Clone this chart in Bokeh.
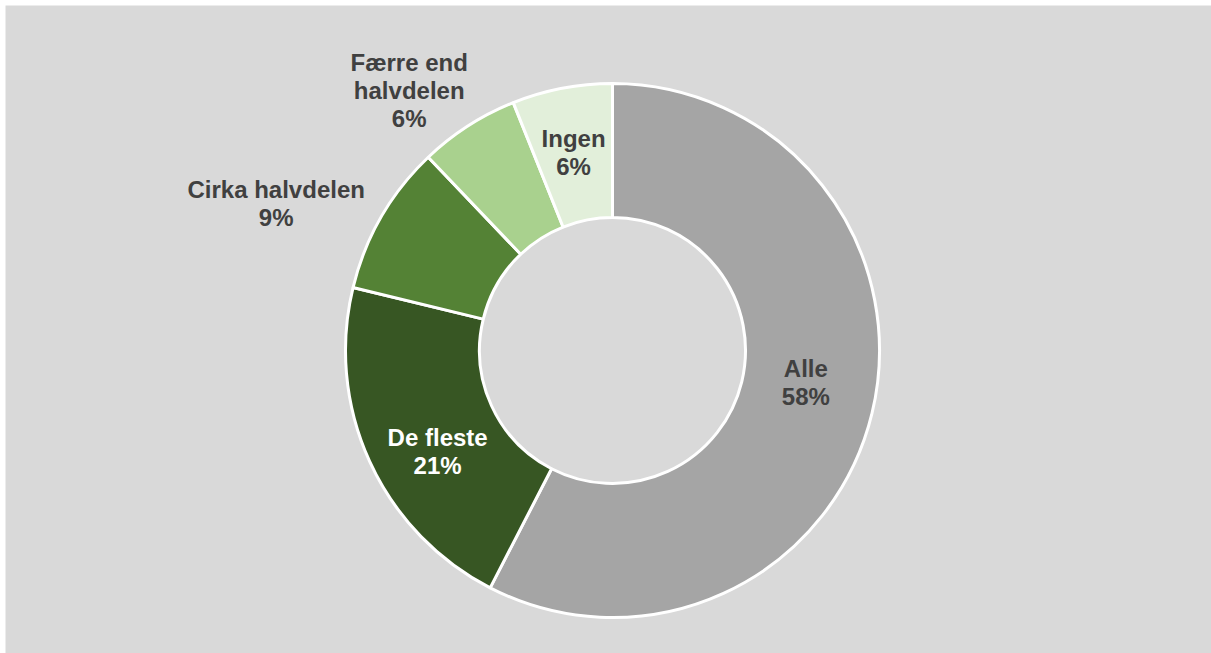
import math
from bokeh.plotting import figure
from bokeh.models import Range1d, ColumnDataSource
from bokeh.embed import file_html
from bokeh.resources import INLINE
from bokeh.core.properties import value

# ---- data ----
categories = ["Alle", "De fleste", "Cirka halvdelen", "Færre end halvdelen", "Ingen"]
label_names = ["Alle", "De fleste", "Cirka halvdelen", "Færre end\nhalvdelen", "Ingen"]
counts = [19, 7, 3, 2, 2]  # n = 33

# ---- styles ----
colors = ["#A5A5A5", "#375623", "#548235", "#A9D18E", "#E2EFDA"]
text_colors = ["#404040", "#FFFFFF", "#404040", "#404040", "#404040"]
label_angle_shift = [-4.2, -5.5, -6.4, -5.3, -0.2]   # degrees, clockwise
label_radius = [196, 202, 367, 330, 202]              # px from centre

W, H = 1211, 653
p = figure(width=W, height=H, x_range=Range1d(5, W), y_range=Range1d(-H, -5),
           x_axis_type=None, y_axis_type=None, output_backend="svg",
           toolbar_location=None, min_border=0,
           min_border_left=5, min_border_top=5)
p.grid.visible = False
p.outline_line_color = None
p.background_fill_color = "#D9D9D9"
p.border_fill_color = "#FFFFFF"

cx, cy = 612, -350
r_in, r_out = 133, 267

total = sum(counts)
fracs = [c / total for c in counts]
cum = [0.0]
for f in fracs:
    cum.append(cum[-1] + f)
start = [math.pi / 2 - 2 * math.pi * cum[i] for i in range(len(counts))]
end = [math.pi / 2 - 2 * math.pi * cum[i + 1] for i in range(len(counts))]

src = ColumnDataSource(dict(cat=categories, start=start, end=end, color=colors))
p.annular_wedge(x=cx, y=cy, inner_radius=r_in, outer_radius=r_out,
                start_angle="start", end_angle="end", direction="clock",
                fill_color="color", line_color="white", line_width=3, source=src)

lx, ly, lt = [], [], []
for i, f in enumerate(fracs):
    mid = 360 * (cum[i] + cum[i + 1]) / 2 + label_angle_shift[i]
    th = math.radians(mid)
    lx.append(cx + label_radius[i] * math.sin(th))
    ly.append(cy + label_radius[i] * math.cos(th))
    lt.append(f"{label_names[i]}\n{round(100 * f)}%")

lsrc = ColumnDataSource(dict(x=lx, y=ly, t=lt, c=text_colors))
p.text(x="x", y="y", text="t", text_color="c", source=lsrc,
       text_font=value("Liberation Sans"), text_font_style="bold",
       text_font_size="24px", text_align="center", text_baseline="middle",
       text_line_height=1.05)

open("out.html", "w").write(file_html(p, INLINE))
